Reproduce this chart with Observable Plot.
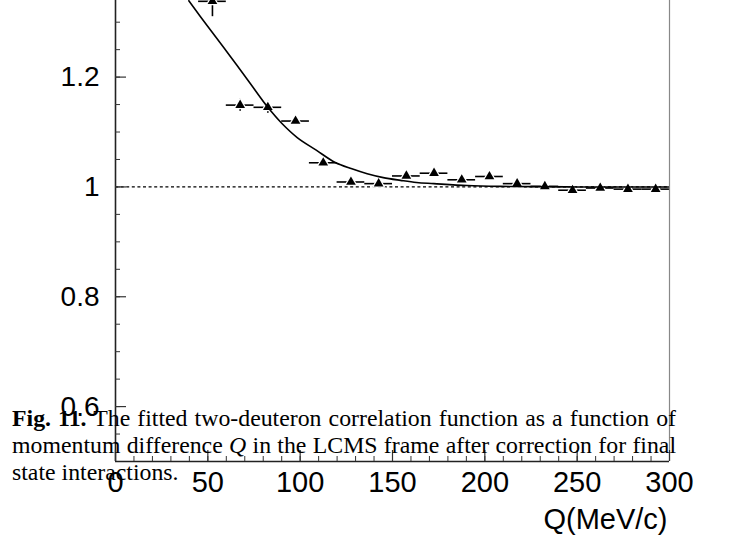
<!DOCTYPE html>
<html><head><meta charset="utf-8">
<script src="https://cdn.jsdelivr.net/npm/d3@7"></script>
<script src="https://cdn.jsdelivr.net/npm/@observablehq/plot@0.6"></script>
<style>
body{margin:0;background:#fff;}
#wrap{position:relative;width:733px;height:542px;overflow:hidden;background:#fff;}
#caption{position:absolute;left:12px;top:405px;width:664px;font-family:"Liberation Serif","Times New Roman",serif;font-size:23.8px;line-height:27px;color:#000;}
#caption div{white-space:nowrap;text-align:justify;text-align-last:justify;}
#caption div.last{text-align-last:left;}
</style></head><body><div id="wrap"></div>
<script>
// Data points: bin centres (MeV/c), correlation values, errors
const qCenters = [52.5, 67.5, 82.5, 97.5, 112.5, 127.5, 142.5, 157.5, 172.5, 187.5, 202.5, 217.5, 232.5, 247.5, 262.5, 277.5, 292.5];
const cValues  = [1.338, 1.149, 1.145, 1.120, 1.044, 1.009, 1.006, 1.020, 1.025, 1.013, 1.019, 1.006, 1.001, 0.994, 0.998, 0.996, 0.996];
const cErrors  = [0.028, 0.011, 0.011, 0.007, 0.006, 0.004, 0.004, 0.004, 0.004, 0.004, 0.004, 0.004, 0.004, 0.004, 0.004, 0.004, 0.004];
const qHalfBin = 7.5;
// Fitted curve
const fitQ = [39.7, 50, 61, 72, 82.5, 90, 98.4, 108.7, 119, 128, 136.3, 145, 154.3, 163, 172.4, 190.4, 208.5, 226.5, 250, 275, 300];
const fitC = [1.339, 1.292, 1.243, 1.193, 1.145, 1.116, 1.090, 1.067, 1.0445, 1.033, 1.024, 1.017, 1.012, 1.008, 1.006, 1.0025, 1.001, 1.0005, 1.0, 1.0, 1.0];
// Axes
const xTickLabels = [0, 50, 100, 150, 200, 250, 300];
const xMinorTicks = d3.range(0, 301, 10);
const yTickLabels = [0.6, 0.8, 1, 1.2];
const yMinorTicks = [0.55, 0.6, 0.65, 0.7, 0.75, 0.8, 0.85, 0.9, 0.95, 1, 1.05, 1.1, 1.15, 1.2, 1.25, 1.3];
const xDomain = [0, 300];
const yDomain = [0.5, 1.3395];
const xTitle = "Q(MeV/c)";

const W = 733, H = 542, mL = 115, mR = 64, mT = 0, mB = 81;
const plotW = W - mL - mR, plotH = H - mT - mB;

const points = qCenters.map((q, i) => ({q, c: cValues[i], e: cErrors[i]}));
const fit = fitQ.map((q, i) => ({q, c: fitC[i]}));

const chart = Plot.plot({
  width: W, height: H,
  marginLeft: mL, marginRight: mR, marginTop: mT, marginBottom: mB,
  style: {fontFamily: "'Liberation Sans', Arial, sans-serif", background: "white", color: "#000"},
  x: {domain: xDomain},
  y: {domain: yDomain},
  marks: [
    Plot.ruleY([1], {stroke: "#000", strokeWidth: 1.3, strokeDasharray: "3,2.6"}),
    Plot.ruleY(points, {y: "c", x1: d => d.q - qHalfBin, x2: d => d.q + qHalfBin, stroke: "#000", strokeWidth: 1.6, clip: true}),
    Plot.ruleX(points, {x: "q", y1: d => d.c - d.e, y2: d => d.c + d.e, stroke: "#000", strokeWidth: 1.6, clip: true}),
    Plot.dot(points, {x: "q", y: "c", symbol: "triangle", r: 3.6, fill: "white", stroke: "white", strokeWidth: 2.5, clip: true}),
    Plot.dot(points, {x: "q", y: "c", symbol: "triangle", r: 3.6, fill: "#000", stroke: "none", clip: true}),
    Plot.line(fit, {x: "q", y: "c", curve: "catmull-rom", stroke: "#000", strokeWidth: 1.6, clip: true}),
    // frame lines
    Plot.ruleX([xDomain[1]], {stroke: "#888", strokeWidth: 1.2}),
    Plot.ruleX([xDomain[0]], {stroke: "#222", strokeWidth: 1.6}),
    Plot.ruleY([yDomain[0]], {stroke: "#222", strokeWidth: 1.6}),
    // inward ticks
    Plot.tickY(yMinorTicks, {y: d => d, insetRight: plotW - 5, stroke: "#333", strokeWidth: 1}),
    Plot.tickY(yTickLabels, {y: d => d, insetRight: plotW - 11, stroke: "#333", strokeWidth: 1.2}),
    Plot.tickX(xMinorTicks, {x: d => d, insetTop: plotH - 5, stroke: "#333", strokeWidth: 1}),
    Plot.tickX(xTickLabels, {x: d => d, insetTop: plotH - 11, stroke: "#333", strokeWidth: 1.2}),
    Plot.axisY({ticks: yTickLabels, tickSize: 0, tickPadding: 16, fontSize: 28, label: null, tickFormat: d => String(d)}),
    Plot.axisX({ticks: xTickLabels, tickSize: 0, tickPadding: 10, fontSize: 29, label: null, tickFormat: d => String(d)}),
    Plot.text([xTitle], {frameAnchor: "bottom-right", textAnchor: "end", lineAnchor: "bottom", dy: 67, dx: -2, fontSize: 29})
  ]
});
const wrap = document.getElementById("wrap");
wrap.appendChild(chart);
const cap = document.createElement("div");
cap.id = "caption";
cap.innerHTML = '<div><b>Fig. 11.</b> The fitted two-deuteron correlation function as a function of</div>' +
  '<div>momentum difference <i>Q</i> in the LCMS frame after correction for final</div>' +
  '<div class="last">state interactions.</div>';
wrap.appendChild(cap);
</script>
</body></html>
